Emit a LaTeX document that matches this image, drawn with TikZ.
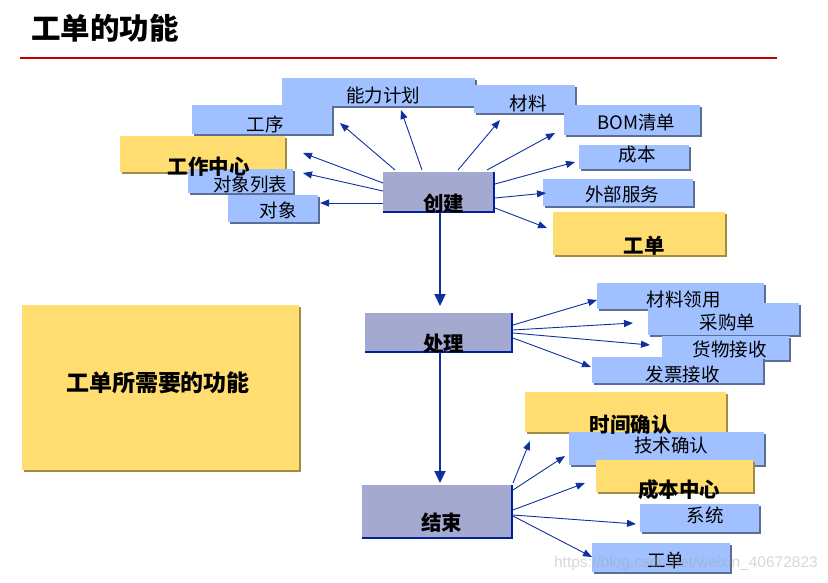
\documentclass[tikz,border=0pt]{standalone}
\usepackage{fontspec}
\setmainfont{Noto Sans CJK SC}
\newfontfamily\wmfont{Liberation Sans}
\usetikzlibrary{arrows.meta,shadows,calc}
\definecolor{boxblue}{HTML}{A0C0FF}
\definecolor{boxyel}{HTML}{FFDD71}
\definecolor{boxgray}{HTML}{A3A9CF}
\definecolor{shblue}{HTML}{5A6E96}
\definecolor{shyel}{HTML}{A08C46}
\definecolor{arrc}{HTML}{1030A0}
\definecolor{edgec}{HTML}{0020A0}
\definecolor{redline}{HTML}{C00000}
\begin{document}
\begin{tikzpicture}[x=1pt,y=-1pt,
  base/.style={anchor=north west, inner sep=0pt, outer sep=0pt, draw=none},
  bbox/.style={base, fill=boxblue, drop shadow={shadow xshift=1.5pt, shadow yshift=-1.5pt, fill=shblue, opacity=1}},
  ybox/.style={base, fill=boxyel, drop shadow={shadow xshift=1.5pt, shadow yshift=-1.5pt, fill=shyel, opacity=1}},
  gbox/.style={base, fill=boxgray},
  gedge/.style={draw=edgec, line width=2pt},
  rt/.style={inner sep=0pt, font=\fontsize{18.5}{21}\selectfont},
  bt/.style={inner sep=0pt, font=\fontsize{20.5}{24}\selectfont\bfseries},
  arr/.style={draw=arrc, line width=0.9pt, -{Triangle[length=9pt,width=7pt]}},
  varr/.style={draw=arrc, line width=2pt, -{Triangle[length=12pt,width=11pt]}}
]
\useasboundingbox (0,0) rectangle (828,582);
% title
\node[inner sep=0pt, font=\fontsize{29.5}{33}\selectfont\bfseries] (title) at (105,28) {工单的功能};
\coordinate (rl1) at (20,58);
\coordinate (rl2) at (777,58);
\draw[redline, line width=2.5pt] (rl1) -- (rl2);

% top boxes
\node[bbox, minimum width=193pt, minimum height=28pt] (nl) at (282,78) {};
\node[bbox, minimum width=101pt, minimum height=28pt] (cl) at (474,85) {};
\node[bbox, minimum width=140pt, minimum height=29pt] (gx) at (192,105) {};
\node[bbox, minimum width=136pt, minimum height=30pt] (bom) at (564,105) {};
\node[ybox, minimum width=165pt, minimum height=36pt] (gzzx) at (120,136) {};
\node[bbox, minimum width=110pt, minimum height=24pt] (cb) at (579,145) {};
\node[bbox, minimum width=105pt, minimum height=24pt] (dxlb) at (188,169) {};
\node[bbox, minimum width=150pt, minimum height=27pt] (wbfw) at (543,179) {};
\node[bbox, minimum width=90pt, minimum height=27pt] (dx) at (228,195) {};
\node[ybox, minimum width=172pt, minimum height=43pt] (gd1) at (553,212) {};
\node[gbox, minimum width=111pt, minimum height=40pt] (cj) at (383,172) {};
\draw[gedge] (cj.north east) -- (cj.south east) -- (cj.south west);

% middle
\node[ybox, minimum width=277pt, minimum height=165pt] (big) at (22,305) {};
\node[gbox, minimum width=147pt, minimum height=39pt] (cl2) at (365,313) {};
\draw[gedge] (cl2.north east) -- (cl2.south east) -- (cl2.south west);
\node[bbox, minimum width=167pt, minimum height=26pt] (clly) at (597,283) {};
\node[bbox, minimum width=151pt, minimum height=32pt] (cgd) at (648,303) {};
\node[bbox, minimum width=127pt, minimum height=24pt] (hwjs) at (662,336) {};
\node[bbox, minimum width=171pt, minimum height=26pt] (fpjs) at (592,357) {};

% bottom
\node[ybox, minimum width=201pt, minimum height=40pt] (sjqr) at (525,392) {};
\node[bbox, minimum width=195pt, minimum height=33pt] (jsqr) at (569,432) {};
\node[ybox, minimum width=157pt, minimum height=32pt] (cbzx) at (596,460) {};
\node[bbox, minimum width=119pt, minimum height=28pt] (xt) at (640,504) {};
\node[bbox, minimum width=138pt, minimum height=29pt] (gd2) at (592,543) {};
\node[gbox, minimum width=150pt, minimum height=53pt] (js) at (362,485) {};
\draw[gedge] (js.north east) -- (js.south east) -- (js.south west);

% texts
\node[rt] (tnl) at (383,95.5) {能力计划};
\node[rt] (tcl) at (528,103) {材料};
\node[rt] (tgx) at (265,124) {工序};
\node[rt] (tbom) at (636.5,122.5) {BOM清单};
\node[bt] (tgzzx) at (208.5,167) {工作中心};
\node[rt] (tcb) at (637,155) {成本};
\node[rt] (tdxlb) at (250,184.5) {对象列表};
\node[rt] (twbfw) at (622,194.5) {外部服务};
\node[rt] (tdx) at (278,210.5) {对象};
\node[bt] (tgd1) at (644,246) {工单};
\node[bt] (tcj) at (443.5,203.5) {创建};
\node[bt, font=\fontsize{23}{26}\selectfont\bfseries] (tbig) at (158,382.5) {工单所需要的功能};
\node[bt] (tcl2) at (443.5,343.5) {处理};
\node[rt] (tclly) at (683.5,300) {材料领用};
\node[rt] (tcgd) at (727.5,322.5) {采购单};
\node[rt] (thwjs) at (729.5,349.5) {货物接收};
\node[rt] (tfpjs) at (682.5,374.5) {发票接收};
\node[bt] (tsjqr) at (630.5,424.5) {时间确认};
\node[rt] (tjsqr) at (671,445.5) {技术确认};
\node[bt] (tcbzx) at (679,490) {成本中心};
\node[rt] (txt) at (705,515.5) {系统};
\node[bt] (tjs) at (441.5,523) {结束};
\node[rt] (tgd2) at (665.5,560.5) {工单};

% arrow tips
\coordinate (a1) at (340,123);
\coordinate (a2) at (303,153);
\coordinate (a3) at (303,173);
\coordinate (a4) at (320,203);
\coordinate (a5) at (401,110);
\coordinate (a6) at (500,120);
\coordinate (a7) at (555,133);
\coordinate (a8) at (575,162);
\coordinate (a9) at (546,193);
\coordinate (a10) at (547,228);
\coordinate (b1) at (597,300);
\coordinate (b2) at (633,323);
\coordinate (b3) at (650,345);
\coordinate (b4) at (591,367);
\coordinate (c1) at (530,441);
\coordinate (c2) at (565,456);
\coordinate (c3) at (585,483);
\coordinate (c4) at (636,524);
\coordinate (c5) at (592,557);

\draw[arr] ($(cj.north west)+(12,-2)$) -- (a1);
\draw[arr] ($(cj.north west)+(0,11)$) -- (a2);
\draw[arr] ($(cj.north west)+(0,19)$) -- (a3);
\draw[arr] ($(cj.north west)+(0,31)$) -- (a4);
\draw[arr] ($(cj.north west)+(39,-2)$) -- (a5);
\draw[arr] ($(cj.north west)+(75,-2)$) -- (a6);
\draw[arr] ($(cj.north west)+(104,-2)$) -- (a7);
\draw[arr] ($(cj.north east)+(1,12)$) -- (a8);
\draw[arr] ($(cj.north east)+(1,26)$) -- (a9);
\draw[arr] ($(cj.north east)+(1,36)$) -- (a10);

\draw[arr] ($(cl2.north east)+(1,12)$) -- (b1);
\draw[arr] ($(cl2.north east)+(1,17)$) -- (b2);
\draw[arr] ($(cl2.north east)+(1,20)$) -- (b3);
\draw[arr] ($(cl2.north east)+(1,25)$) -- (b4);

\draw[arr] ($(js.north east)+(1,-2)$) -- (c1);
\draw[arr] ($(js.north east)+(1,5)$) -- (c2);
\draw[arr] ($(js.north east)+(1,25)$) -- (c3);
\draw[arr] ($(js.north east)+(1,30)$) -- (c4);
\draw[arr] ($(js.north east)+(1,31)$) -- (c5);

\draw[varr, shorten >=7pt] ($(cj.south)+(1.5,0)$) -- ($(cl2.north)+(1.5,0)$);
\draw[varr, shorten >=2pt] ($(cl2.south)+(1.5,0)$) -- ($(js.north)+(3,0)$);

% watermark
\node[inner sep=0pt, anchor=east, text=gray!70, text opacity=0.45, font=\wmfont\fontsize{15.5}{18}\selectfont] (wm) at (818,563) {https://blog.csdn.net/weixin\_40672823};
\end{tikzpicture}
\end{document}
